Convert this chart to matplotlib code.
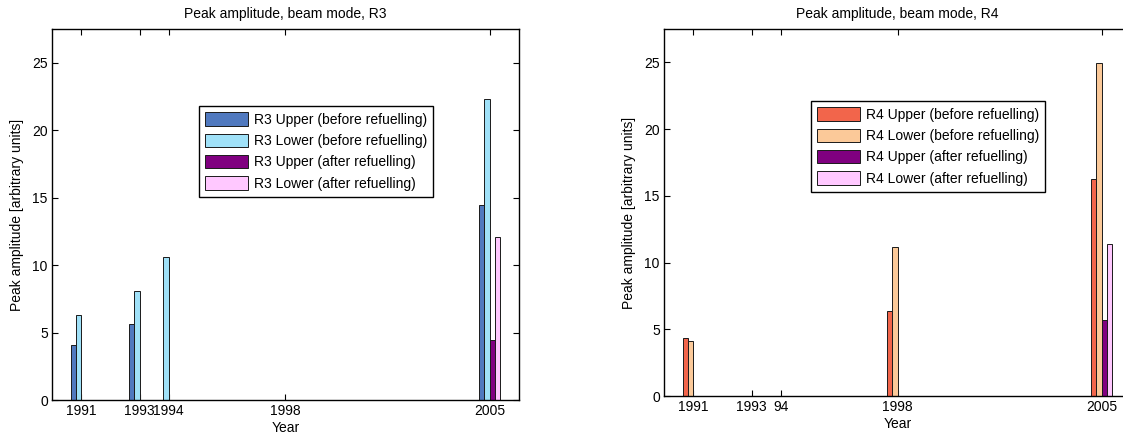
import numpy as np
import matplotlib
matplotlib.use("Agg")
import matplotlib.pyplot as plt

plt.rcParams["font.family"] = ["Liberation Sans", "DejaVu Sans"]
plt.rcParams["font.size"] = 10

# data
years = [1991, 1993, 1994, 1998, 2005]

r3_upper_before = [4.05, 5.6, 0.0, 0.0, 14.45]
r3_lower_before = [6.3, 8.1, 10.6, 0.0, 22.3]
r3_upper_after = [0.0, 0.0, 0.0, 0.0, 4.45]
r3_lower_after = [0.0, 0.0, 0.0, 0.0, 12.1]

r4_upper_before = [4.35, 0.0, 0.0, 6.35, 16.25]
r4_lower_before = [4.1, 0.0, 0.0, 11.15, 24.95]
r4_upper_after = [0.0, 0.0, 0.0, 0.0, 5.7]
r4_lower_after = [0.0, 0.0, 0.0, 0.0, 11.4]

r3_ticklabels = ["1991", "1993", "1994", "1998", "2005"]
r4_ticklabels = ["1991", "1993", "94", "1998", "2005"]

r3_labels = ["R3 Upper (before refuelling)", "R3 Lower (before refuelling)",
             "R3 Upper (after refuelling)", "R3 Lower (after refuelling)"]
r4_labels = ["R4 Upper (before refuelling)", "R4 Lower (before refuelling)",
             "R4 Upper (after refuelling)", "R4 Lower (after refuelling)"]

r3_colors = ["#5079bf", "#a0e1f8", "#800080", "#ffc8ff"]
r4_colors = ["#f2654b", "#fbc999", "#800080", "#ffc8ff"]


def panel(ax, series, labels, colors, ticklabels, title, leg_xy):
    x = np.array(years, dtype=float)
    w = 0.182
    for i, (vals, lab, col) in enumerate(zip(series, labels, colors)):
        ax.bar(x + (i - 1.5) * w, vals, width=w, color=col, edgecolor="#1a1a1a",
               linewidth=0.7, label=lab, zorder=2)
    ax.set_xlim(1990, 2006)
    ax.set_ylim(0, 27.5)
    ax.set_xticks(years)
    ax.set_xticklabels(ticklabels)
    ax.set_yticks([0, 5, 10, 15, 20, 25])
    ax.tick_params(direction="in", length=4, width=0.8, top=True, right=True, pad=3)
    for s in ax.spines.values():
        s.set_linewidth(1.0)
    ax.set_title(title, fontsize=10, pad=8)
    ax.set_xlabel("Year", labelpad=2)
    ax.set_ylabel("Peak amplitude [arbitrary units]", labelpad=6)
    leg = ax.legend(loc="upper left", bbox_to_anchor=leg_xy, borderaxespad=0,
                    fancybox=False, framealpha=1, edgecolor="black",
                    handlelength=3.1, handleheight=1.1, labelspacing=0.5,
                    handletextpad=0.4, borderpad=0.45, fontsize=10)
    leg.get_frame().set_linewidth(1.0)


fig = plt.figure(figsize=(11.23, 4.4), dpi=100)
ax1 = fig.add_axes([0.0463, 0.0909, 0.4158, 0.843])
ax2 = fig.add_axes([0.5913, 0.1000, 0.4158, 0.834])

panel(ax1, [r3_upper_before, r3_lower_before, r3_upper_after, r3_lower_after],
      r3_labels, r3_colors, r3_ticklabels, "Peak amplitude, beam mode, R3", (0.315, 0.7925))
panel(ax2, [r4_upper_before, r4_lower_before, r4_upper_after, r4_lower_after],
      r4_labels, r4_colors, r4_ticklabels, "Peak amplitude, beam mode, R4", (0.315, 0.804))

fig.savefig("out.png", dpi=100)
